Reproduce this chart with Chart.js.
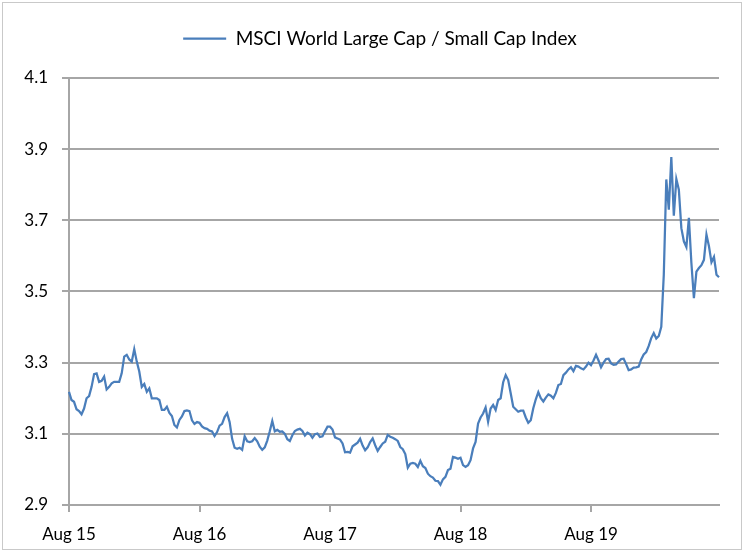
<!DOCTYPE html>
<html>
<head>
<meta charset="utf-8">
<script src="https://cdn.jsdelivr.net/npm/chart.js@4.4.1/dist/chart.umd.min.js"></script>
<style>
  html, body { margin: 0; padding: 0; background: #fff; }
  #marco { position: absolute; left: 2px; top: 2px; width: 738px; height: 546px; border: 1px solid #c9c9c9; }
  #lienzo { position: absolute; left: 0; top: 0; }
</style>
</head>
<body>
<div id="marco"></div>
<canvas id="lienzo" width="747" height="552"></canvas>
<script>
// Datos semanales, una lista por año (agosto a agosto)
const serieNombre = "MSCI World Large Cap / Small Cap Index";
const etiquetasAnio = ["Aug 15", "Aug 16", "Aug 17", "Aug 18", "Aug 19"];
const semanasPorAnio = 52;
const ticksY = [2.9, 3.1, 3.3, 3.5, 3.7, 3.9, 4.1];

const anio15 = [3.218, 3.195, 3.190, 3.169, 3.164, 3.155, 3.171, 3.200, 3.206, 3.232, 3.268, 3.270, 3.246,
  3.249, 3.261, 3.225, 3.232, 3.242, 3.246, 3.246, 3.246, 3.270, 3.317, 3.322, 3.309, 3.303,
  3.338, 3.303, 3.275, 3.232, 3.240, 3.218, 3.228, 3.200, 3.200, 3.200, 3.195, 3.167, 3.167,
  3.176, 3.159, 3.150, 3.125, 3.118, 3.139, 3.149, 3.164, 3.166, 3.164, 3.138, 3.128, 3.133];
const anio16 = [3.131, 3.121, 3.116, 3.114, 3.109, 3.107, 3.094, 3.105, 3.123, 3.128, 3.147, 3.158, 3.133,
  3.086, 3.061, 3.058, 3.061, 3.055, 3.093, 3.079, 3.077, 3.079, 3.088, 3.079, 3.064, 3.055,
  3.062, 3.081, 3.107, 3.136, 3.107, 3.111, 3.106, 3.107, 3.100, 3.085, 3.080, 3.096, 3.108,
  3.112, 3.114, 3.108, 3.095, 3.103, 3.099, 3.089, 3.099, 3.101, 3.091, 3.093, 3.107, 3.120];
const anio17 = [3.120, 3.112, 3.090, 3.087, 3.084, 3.073, 3.048, 3.049, 3.047, 3.065, 3.070, 3.075, 3.086,
  3.067, 3.054, 3.062, 3.077, 3.087, 3.068, 3.052, 3.063, 3.073, 3.078, 3.097, 3.092, 3.089,
  3.085, 3.080, 3.063, 3.057, 3.043, 3.005, 3.016, 3.018, 3.016, 3.007, 3.024, 3.009, 3.004,
  2.988, 2.981, 2.977, 2.968, 2.967, 2.957, 2.972, 2.979, 2.998, 3.002, 3.035, 3.033, 3.030];
const anio18 = [3.033, 3.012, 3.007, 3.012, 3.026, 3.059, 3.077, 3.129, 3.146, 3.157, 3.174, 3.134, 3.171,
  3.181, 3.167, 3.195, 3.200, 3.245, 3.265, 3.251, 3.214, 3.176, 3.169, 3.162, 3.165, 3.165,
  3.146, 3.131, 3.138, 3.172, 3.197, 3.217, 3.200, 3.191, 3.202, 3.211, 3.207, 3.200, 3.215,
  3.237, 3.240, 3.265, 3.272, 3.281, 3.287, 3.276, 3.291, 3.289, 3.284, 3.281, 3.289, 3.300];
const anio19 = [3.293, 3.306, 3.322, 3.306, 3.287, 3.300, 3.310, 3.311, 3.298, 3.294, 3.295, 3.303, 3.310,
  3.311, 3.296, 3.279, 3.281, 3.286, 3.287, 3.289, 3.309, 3.323, 3.330, 3.347, 3.369, 3.383,
  3.368, 3.375, 3.401, 3.547, 3.815, 3.730, 3.878, 3.713, 3.816, 3.786, 3.678, 3.641, 3.625,
  3.707, 3.580, 3.481, 3.556, 3.566, 3.574, 3.589, 3.660, 3.627, 3.582, 3.597, 3.547, 3.540];

const valores = [...anio15, ...anio16, ...anio17, ...anio18, ...anio19];
// solo el inicio de cada año lleva texto en el eje
const etiquetas = valores.map((v, i) => i % semanasPorAnio === 0 ? etiquetasAnio[i / semanasPorAnio] : "");

const grisEje = "#a6a6a6";
const fuente = "Lato, 'Liberation Sans', sans-serif";

// alto fijo para la leyenda y un corrimiento para centrarla como en el original
const altoLeyenda = {
  id: "altoLeyenda",
  beforeInit(chart) {
    const fitOriginal = chart.legend.fit;
    chart.legend.fit = function () {
      fitOriginal.call(this);
      this.height = 78;
    };
  },
  afterLayout(chart) {
    chart.legend.left += 38;
  }
};

const canvas = document.querySelector("#lienzo");
const myChart = new Chart(canvas, {
  type: "line",
  data: {
    labels: etiquetas,
    datasets: [{
      label: serieNombre,
      data: valores,
      borderColor: "#4a7ebb",
      backgroundColor: "#4a7ebb",
      borderWidth: 2.25,
      pointRadius: 0,
      tension: 0,
      fill: false
    }]
  },
  options: {
    responsive: false,
    animation: false,
    layout: { padding: { top: 0, left: 3, right: 28, bottom: 0 } },
    plugins: {
      legend: {
        position: "top",
        labels: {
          usePointStyle: true,
          pointStyle: "line",
          pointStyleWidth: 43,
          padding: 29,
          color: "#000",
          font: { family: fuente, size: 19 }
        }
      },
      tooltip: { enabled: false }
    },
    scales: {
      x: {
        grid: { drawOnChartArea: false, tickLength: 7, color: grisEje, lineWidth: 2 },
        border: { color: grisEje, width: 2 },
        ticks: { autoSkip: false, maxRotation: 0, padding: 12, color: "#000", font: { family: fuente, size: 17 } },
        afterBuildTicks: (s) => { s.ticks = s.ticks.filter(t => t.value % semanasPorAnio === 0); },
        afterFit: (s) => { s.height = 47; }
      },
      y: {
        min: 2.9,
        max: 4.1,
        grid: { tickLength: 7, color: grisEje, lineWidth: 2 },
        border: { color: grisEje, width: 2 },
        ticks: { padding: 14, color: "#000", font: { family: fuente, size: 17 }, callback: (v) => v.toFixed(1) },
        afterBuildTicks: (s) => { s.ticks = ticksY.map(v => ({ value: v })); },
        afterFit: (s) => { s.width = 66; }
      }
    }
  },
  plugins: [altoLeyenda]
});
</script>
</body>
</html>
